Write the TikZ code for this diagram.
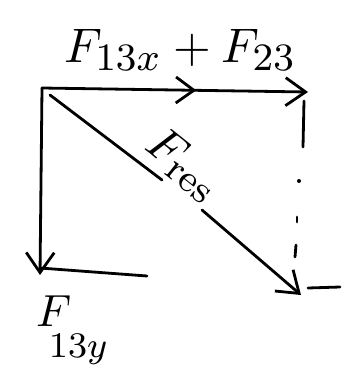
\documentclass[tikz,border=0pt]{standalone}
\usetikzlibrary{arrows.meta,decorations.markings}
\DeclareMathSizes{10}{10}{8}{6}
\begin{document}
\begin{tikzpicture}[x=1pt,y=-1pt,
  ink/.style={line width=2.8pt,line cap=round,line join=round},
  barb/.style={-{Straight Barb[length=20pt,width=28pt,line width=2.8pt]}},
  midbarb/.style={postaction={decorate},decoration={markings,
     mark=at position #1 with {\arrow{Straight Barb[length=18pt,width=26pt,line width=2.8pt]}}}},
  lab/.style={inner sep=0pt},
]
\useasboundingbox (0,0) rectangle (350,383);
% points
\coordinate (O) at (42,88);
\coordinate (xtip) at (308,92);
\coordinate (ytip) at (40,275);
\coordinate (d0) at (50,95);
\coordinate (g1) at (162,180);
\coordinate (g2) at (202,210);
\coordinate (rtip) at (301,295);
\coordinate (b1) at (40,268);
\coordinate (b2) at (147,276);
\coordinate (e1) at (308,288);
\coordinate (e2) at (340,287);
\coordinate (r1) at (304,101);
\coordinate (r2) at (303,147);
\coordinate (r3) at (299,181);
\coordinate (r4) at (297,217);
\coordinate (r5) at (297,222);
\coordinate (r6) at (296,245);
\coordinate (r7) at (295,257);
% vectors
\draw[ink,barb,midbarb=0.58] (O) -- (xtip);
\draw[ink,barb] (O) -- (ytip);
\draw[ink] (d0) -- (g1);
\draw[ink,barb] (g2) -- (rtip);
\draw[ink] (b1) -- (b2);
\draw[ink] (e1) -- (e2);
% dotted right side
\draw[ink] (r1) -- (r2);
\fill (r3) circle (2pt);
\draw[ink] (r4) -- (r5);
\draw[ink] (r6) -- (r7);
% labels
\node[lab,anchor=base west] (lx) at (64,62) {\scalebox{4.85}{$F_{13x}+F_{23}$}};
\node[lab,rotate=-38.6] (lr) at (184,165) {\scalebox{4.8}{$F_{\mathrm{res}}$}};
\node[lab,anchor=base west] (ly) at (36,326) {\scalebox{4.5}{$F\kern-5pt\raisebox{-7pt}{$\scriptstyle 13y$}$}};
\end{tikzpicture}
\end{document}
